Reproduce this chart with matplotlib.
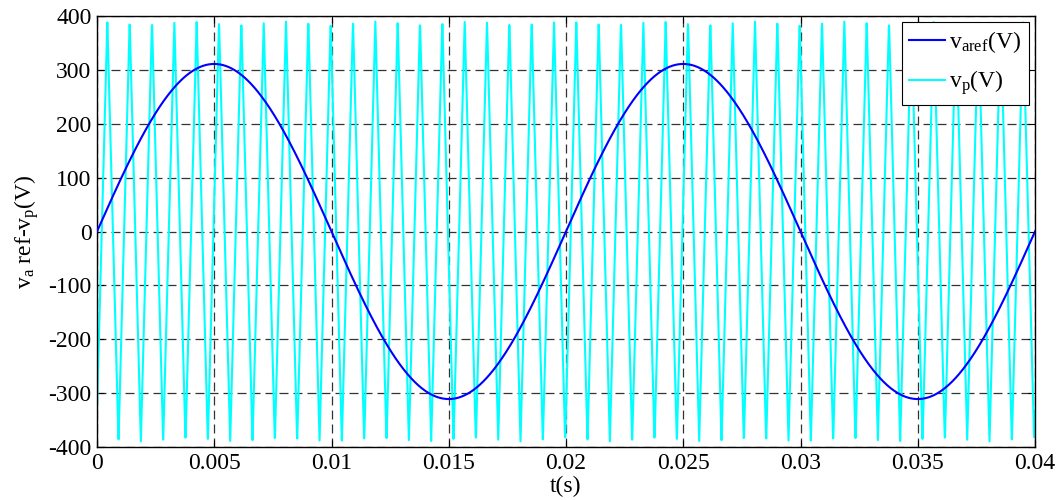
import numpy as np
import matplotlib
matplotlib.use("Agg")
import matplotlib.pyplot as plt

# ---- values ----
t_end = 0.04            # s
dt = 1e-5               # sample step
ref_amplitude = 311.0   # V  (v_aref peak)
ref_freq = 50.0         # Hz
carrier_amplitude = 390.0  # V (v_p peak)
carrier_freq = 1050.0      # Hz
carrier_lead = 0.000035    # s, carrier starts slightly after its trough

xticks = [0, 0.005, 0.01, 0.015, 0.02, 0.025, 0.03, 0.035, 0.04]
xticklabels = ["0", "0.005", "0.01", "0.015", "0.02", "0.025", "0.03", "0.035", "0.04"]
yticks = [-400, -300, -200, -100, 0, 100, 200, 300, 400]
yticklabels = [str(v) for v in yticks]

legend_labels = [r"v$_{\mathregular{aref}}$(V)", r"v$_{\mathregular{p}}$(V)"]
xlabel = "t(s)"
ylabel = r"v$_{\mathregular{a}}$ ref-v$_{\mathregular{p}}$(V)"

# ---- signals ----
t = np.arange(0, t_end + dt / 2, dt)
v_ref = ref_amplitude * np.sin(2 * np.pi * ref_freq * t)
phase = np.mod((t + carrier_lead) * carrier_freq, 1.0)
v_p = carrier_amplitude * (1 - 4 * np.abs(phase - 0.5))

plt.rcParams["font.family"] = ["Liberation Serif", "DejaVu Serif"]
plt.rcParams["mathtext.fontset"] = "custom"
plt.rcParams["mathtext.rm"] = "Liberation Serif"
plt.rcParams["mathtext.it"] = "Liberation Serif:italic"

fig = plt.figure(figsize=(10.6, 5.0), dpi=100)
ax = fig.add_axes([97 / 1060, 1 - 447 / 500, (1035 - 97) / 1060, (447 - 16) / 500])

l1, = ax.plot(t, v_ref, color=(0, 0, 1), lw=1.5, zorder=3)
l2, = ax.plot(t, v_p, color=(0, 1, 1), lw=1.5, zorder=2)

ax.set_xlim(0, t_end)
ax.set_ylim(-400, 400)
ax.set_xticks(xticks)
ax.set_xticklabels(xticklabels)
ax.set_yticks(yticks)
ax.set_yticklabels(yticklabels)
ax.tick_params(direction="in", length=5, width=0.8, top=True, right=True,
               labelsize=17, pad=4)
ax.grid(True, color="#333333", linestyle=(0, (7.2, 4)), linewidth=0.9)
for s in ax.spines.values():
    s.set_linewidth(1.0)

ax.set_xlabel(xlabel, fontsize=17, labelpad=2)
ax.set_ylabel(ylabel, fontsize=17, labelpad=5)

leg = ax.legend([l1, l2], legend_labels, loc="upper right", fontsize=17,
                frameon=True, fancybox=False, framealpha=1, edgecolor="black",
                bbox_to_anchor=(1 - 6 / 938, 1 - 6 / 431),
                borderaxespad=0.0, handlelength=1.5, handletextpad=0.2,
                borderpad=0.32, labelspacing=0.55)
leg.get_frame().set_linewidth(0.8)

fig.savefig("out.png", dpi=100)
